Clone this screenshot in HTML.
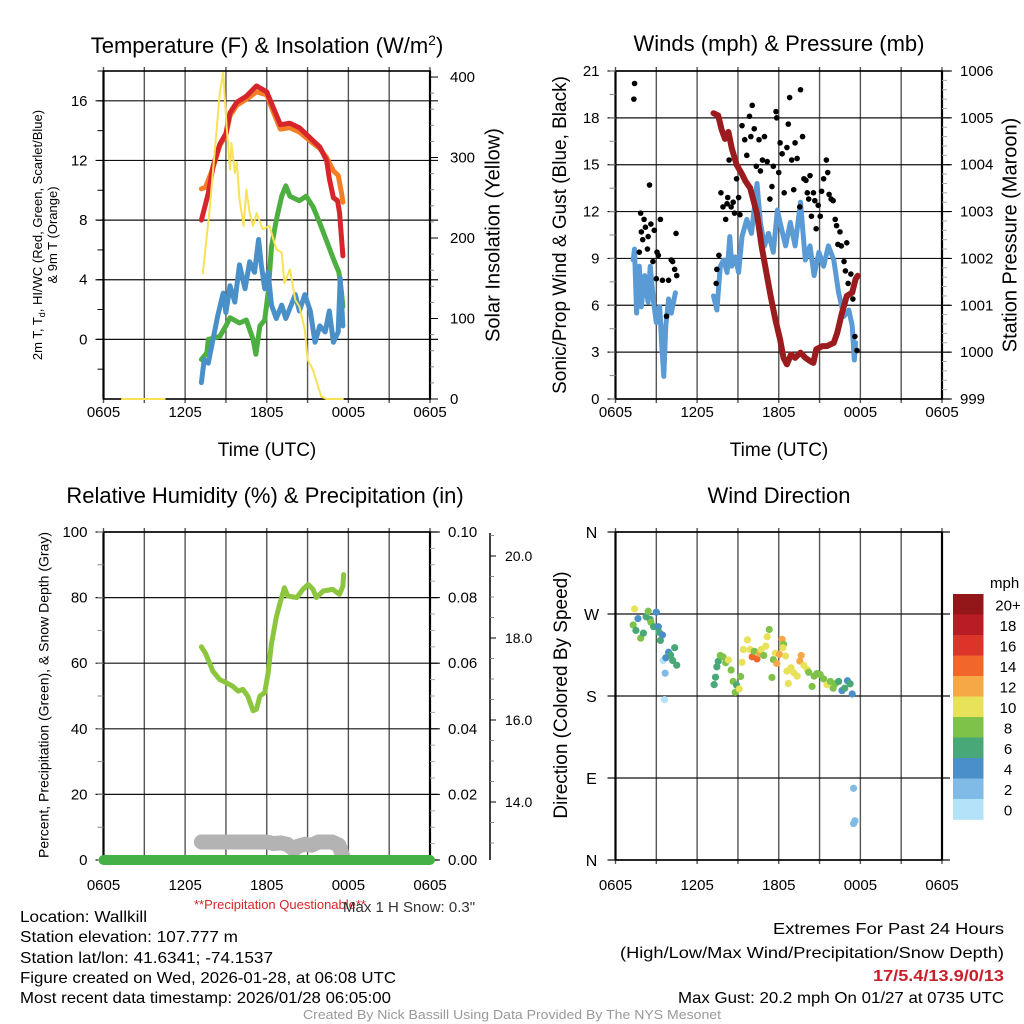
<!DOCTYPE html>
<html><head><meta charset="utf-8"><title>Mesonet Station Meteogram</title>
<style>
html,body{margin:0;padding:0;background:#fff;}
svg{display:block;font-family:"Liberation Sans",sans-serif;}
.nar{font-family:"Liberation Sans Narrow","Liberation Sans",sans-serif;}
</style></head>
<body>
<svg id="fig" width="1024" height="1024" viewBox="0 0 1024 1024" xmlns="http://www.w3.org/2000/svg">
<g id="layer"></g>
<!-- titles -->
<text x="267" y="53" font-size="22" text-anchor="middle">Temperature (F) &amp; Insolation (W/m<tspan dy="-8" font-size="14">2</tspan><tspan dy="8">)</tspan></text>
<text x="779" y="45" font-size="22" text-anchor="middle" dominant-baseline="middle">Winds (mph) &amp; Pressure (mb)</text>
<text x="265" y="497" font-size="22" text-anchor="middle" dominant-baseline="middle">Relative Humidity (%) &amp; Precipitation (in)</text>
<text x="779" y="497" font-size="22" text-anchor="middle" dominant-baseline="middle">Wind Direction</text>
<!-- axis titles -->
<text x="267" y="451" font-size="19" text-anchor="middle" dominant-baseline="middle">Time (UTC)</text>
<text x="779" y="451" font-size="19" text-anchor="middle" dominant-baseline="middle">Time (UTC)</text>
<g transform="translate(42,235) rotate(-90)">
<text x="0" y="0" font-size="13" text-anchor="middle">2m T, T<tspan dy="3" font-size="9">d</tspan><tspan dy="-3">, HI/WC (Red, Green, Scarlet/Blue)</tspan></text>
<text x="0" y="15" font-size="13" text-anchor="middle">&amp; 9m T (Orange)</text>
</g>
<text transform="translate(494,235) rotate(-90)" font-size="20" text-anchor="middle" dominant-baseline="middle">Solar Insolation (Yellow)</text>
<text transform="translate(561,235) rotate(-90)" font-size="19" text-anchor="middle" dominant-baseline="middle">Sonic/Prop Wind &amp; Gust (Blue, Black)</text>
<text transform="translate(1011,235) rotate(-90)" font-size="20" text-anchor="middle" dominant-baseline="middle">Station Pressure (Maroon)</text>
<text transform="translate(45,695) rotate(-90)" font-size="14" text-anchor="middle" dominant-baseline="middle">Percent, Precipitation (Green), &amp; Snow Depth (Gray)</text>
<text transform="translate(562,695) rotate(-90)" font-size="19" text-anchor="middle" dominant-baseline="middle">Direction (Colored By Speed)</text>
<!-- footer -->
<text x="280" y="909" font-size="13" fill="#d62728" text-anchor="middle">**Precipitation Questionable**</text>
<text x="343" y="912" font-size="15" fill="#333">Max 1 H Snow: 0.3"</text>
<g font-size="16" class="nar">
<text x="20" y="922" textLength="127" lengthAdjust="spacingAndGlyphs">Location: Wallkill</text>
<text x="20" y="942" textLength="218" lengthAdjust="spacingAndGlyphs">Station elevation: 107.777 m</text>
<text x="20" y="963" textLength="253" lengthAdjust="spacingAndGlyphs">Station lat/lon: 41.6341; -74.1537</text>
<text x="20" y="983" textLength="376" lengthAdjust="spacingAndGlyphs">Figure created on Wed, 2026-01-28, at 06:08 UTC</text>
<text x="20" y="1003" textLength="371" lengthAdjust="spacingAndGlyphs">Most recent data timestamp: 2026/01/28 06:05:00</text>
</g>
<g font-size="16" class="nar">
<text x="773" y="934" textLength="231" lengthAdjust="spacingAndGlyphs">Extremes For Past 24 Hours</text>
<text x="620" y="958" textLength="384" lengthAdjust="spacingAndGlyphs">(High/Low/Max Wind/Precipitation/Snow Depth)</text>
<text x="873" y="981" textLength="131" lengthAdjust="spacingAndGlyphs" fill="#c8202a" font-weight="bold">17/5.4/13.9/0/13</text>
<text x="678" y="1003" textLength="326" lengthAdjust="spacingAndGlyphs">Max Gust: 20.2 mph On 01/27 at 0735 UTC</text>
</g>
<text x="303" y="1019" font-size="13" class="nar" fill="#999" textLength="418" lengthAdjust="spacingAndGlyphs">Created By Nick Bassill Using Data Provided By The NYS Mesonet</text>
</svg>
<script>
// ---------- data (hours after 0605 UTC) ----------
const timeLabels = ["0605","1205","1805","0005","0605"];
const tempH = [7.2,7.7,8.05,8.55,9.0,9.3,9.8,10.5,11.25,12,12.5,13,13.7,14.4,15.2,15.9,16.4,16.6,16.9,17.2,17.35,17.6];
const tempV = [8,9.8,11.6,13.1,13.8,15.2,15.9,16.3,17.0,16.6,15.5,14.4,14.5,14.2,13.5,12.9,12.0,10.8,9.5,9.3,8.5,5.6];
const t9H = [7.2,7.5,8.05,8.55,9.0,9.3,9.8,10.5,11.25,12,12.5,13,13.7,14.4,15.2,15.9,16.4,16.9,17.25,17.5,17.6];
const t9V = [10.1,10.2,11.5,13.0,13.7,15.0,15.7,16.1,16.6,16.4,15.2,14.1,14.2,13.9,13.3,12.8,12.2,11.3,11.0,9.8,9.2];
const dewH = [7.2,7.6,7.7,8.55,9.0,9.3,10.0,10.5,11.0,11.2,11.5,11.85,12.1,12.35,12.7,13.1,13.4,13.7,14.4,14.9,15.4,15.9,16.4,16.9,17.3,17.5,17.6];
const dewV = [-1.35,-0.9,0,0.2,0.9,1.45,1.1,1.3,0,-1,0.9,1.3,3.1,6.2,8,9.6,10.3,9.6,9.3,9.6,8.9,7.8,6.6,5.4,4.5,3.1,2.2];
const hiH = [7.2,7.4,7.7,8.05,8.4,8.8,9.0,9.3,9.65,10.0,10.4,10.75,11.1,11.4,11.6,11.85,12.1,12.35,12.7,13.1,13.4,14.1,14.4,14.8,15.2,15.55,15.9,16.3,16.6,16.9,17.25,17.4,17.6];
const hiV = [-2.9,-1.35,-1.6,0,1.6,3.1,1.8,3.6,2.5,5,3.4,5.2,4.5,6.7,5,3.4,4.5,2.3,1.4,2.3,1.4,3,1.9,3,1.9,-0.2,0.9,0.5,1.9,-0.2,0.5,4.1,0.9];
const solNightH = [1.35,4.5];
const solNightV = [0,0];
const solH = [7.3,7.8,8.55,8.8,9.05,9.3,9.4,9.65,9.8,10.0,10.3,10.5,10.75,11.0,11.25,11.7,12.2,12.7,13.1,13.3,13.7,14.1,14.4,14.8,15.0,15.4,16.0,16.4,17.6];
const solV = [156,235,380,405,339,285,318,281,294,248,215,260,231,215,231,211,215,186,182,144,161,123,115,86,49,36,3,0,0];
const windH = [1.3,1.4,1.55,1.75,1.9,2.15,2.4,2.55,2.8,3.0,3.25,3.4,3.55,3.7,3.9,4.1,4.4];
const windV = [8.9,9.6,5.5,8.5,5.9,7.9,6.2,8.5,6.2,4.9,5.9,3.4,1.45,4.7,6.4,5.5,6.8];
const wind2H = [7.2,7.45,7.7,7.95,8.2,8.4,8.55,8.8,9.05,9.3,9.65,10.0,10.4,10.65,10.95,11.25,11.6,11.9,12.1,12.5,12.85,13.2,13.6,13.95,14.3,14.6,14.95,15.3,15.65,16.05,16.4,16.8,17.15,17.4,17.55,17.65];
const wind2V = [6.6,5.7,8.5,8.9,8.1,10.4,8.5,9.1,8.1,10.4,11.5,10.6,13.8,11.3,9.8,10.6,9.4,12.1,11.3,9.8,11.3,9.8,12.6,8.9,9.8,7.9,9.4,8.5,9.8,8.9,6.8,5.3,5.7,4.7,2.5,3.6];
const gustH = [1.35,1.4,1.75,1.85,1.9,2.0,2.1,2.2,2.35,2.4,2.5,2.6,2.75,2.85,3.0,3.05,3.15,3.3,3.45,3.75,3.9,4.1,4.2,4.35,4.45,4.5,
7.4,7.45,7.6,7.75,7.9,8.1,8.2,8.25,8.35,8.5,8.65,8.75,8.9,9.05,9.15,9.3,9.5,9.65,9.85,9.95,10.05,10.2,10.35,10.55,10.65,10.8,10.95,11.15,11.35,11.5,11.6,11.8,11.85,12.0,12.1,12.25,12.4,12.6,12.7,12.8,12.95,13.1,13.2,13.35,13.55,13.6,13.75,13.85,14.0,14.1,14.2,14.3,14.4,14.55,14.65,14.75,14.9,15.05,15.15,15.3,15.5,15.6,15.7,15.85,16.0,16.15,16.25,16.35,16.5,16.6,16.8,16.9,17.0,17.1,17.3,17.45,17.6,17.75];
const gustV = [19.2,20.2,9.4,11.9,10.7,10.2,11.5,11.0,9.6,10.4,13.7,11.2,8.8,10.8,7.7,9.4,9.2,11.5,7.6,5.3,7.6,8.9,8.8,8.3,10.6,7.9,
7.4,8.3,9.2,13.2,12.3,11.5,12.5,12.9,15.3,12.3,12.6,11.9,14.1,12.9,11.8,17.5,16.6,15.6,18.1,16.8,18.8,17.3,14.9,16.6,14.6,15.3,16.8,15.2,12.8,13.6,14.9,18.4,18.0,14.5,16.4,15.7,13.2,16.1,17.6,19.3,15.3,13.4,16.4,15.4,12.3,19.8,16.8,14.1,14.0,13.2,12.8,14.3,11.7,13.2,12.7,10.9,12.4,11.7,13.3,14.1,15.3,14.5,13.1,12.8,12.7,11.5,11.1,9.9,10.7,9.8,8.8,8.2,10.0,7.4,8.0,6.4,4.0,3.1];
const presH = [7.2,7.55,7.8,8.05,8.3,8.55,8.9,9.3,9.55,9.9,10.4,10.75,11.15,11.4,11.75,12.1,12.35,12.6,12.9,13.2,13.6,13.95,14.3,14.55,14.75,15.2,15.55,16.05,16.3,16.65,17.0,17.4,17.65,17.8];
const presV = [1005.1,1005.05,1004.75,1004.55,1004.7,1004.35,1004.0,1003.8,1003.65,1003.5,1002.95,1002.25,1001.6,1001.2,1000.7,1000.27,999.88,999.74,999.95,999.88,999.99,999.88,999.81,999.77,1000.06,1000.13,1000.13,1000.2,1000.41,1000.84,1001.2,1001.27,1001.56,1001.63];
const rhH = [7.2,7.5,7.8,8.05,8.55,9.05,9.5,9.9,10.25,10.6,11.0,11.25,11.5,11.85,12.1,12.35,12.7,12.95,13.3,13.55,14.2,14.65,15.05,15.4,15.65,16.15,16.85,17.35,17.6,17.65];
const rhV = [65,63,60,57.5,55,54,53,51.5,52,50,45.5,46,50,51,57,66,74,78,83,80.5,80,82.5,84,82.5,80,82,82.5,81,83.5,87];
const snowH = [7.2,8.0,9.0,10.0,11.0,12.0,12.5,13.0,13.5,14.0,14.3,14.8,15.3,15.8,16.3,16.8,17.3,17.6];
const snowV = [5.5,5.5,5.5,5.5,5.5,5.5,5,5.2,4.8,3.2,4.2,4.8,4.5,5.5,5.5,5.5,4.5,1.0];
const precipH = [0,24];
const precipV = [0,0];
const dirH = [1.4,1.65,1.3,1.5,1.85,2.05,2.25,2.4,2.55,2.6,2.8,3.0,3.15,3.2,3.3,3.45,3.5,3.7,3.9,4.05,4.2,4.35,4.5,3.65,3.6,
7.25,7.35,7.45,7.55,7.7,7.9,8.1,8.3,8.5,8.65,8.8,8.9,9.1,9.2,9.3,9.4,9.7,9.9,10.05,10.2,10.4,10.6,10.7,10.9,11.05,11.15,11.3,11.5,11.6,11.75,11.85,12.05,12.25,12.35,12.3,12.5,12.6,12.7,12.9,13.1,13.35,13.55,13.65,13.85,14.1,14.2,14.45,14.6,14.8,15.05,15.3,15.55,15.8,16.0,16.15,16.4,16.65,16.85,17.05,17.25,17.4,17.5,17.6,17.5];
const dirV = [275.5,265,258,252,243.5,249,267,273,264,261,256,272,256,250,241,247,219,222,228,225,219,233,213.8,205,176,
192.5,200.6,212,218,224.5,223,216.5,219.5,208.5,196,184,192,187.8,201.4,217,231,241.6,231,223,229,220.7,226.6,231,224.5,234.7,245,253,200.4,220,227,215.8,225.7,242.2,236.7,233,223.9,207.3,193.7,211,205.5,201.8,218.3,224.5,213.5,209,206,190.5,201.8,204.6,203.5,198.7,192.5,196,188.6,193.4,196,186,188.6,196.7,193.4,182.2,78.7,43,40];
const dirSpd = [10,4,8,6,8,6,6,8,6,8,6,4,4,6,6,4,0,4,4,6,6,6,6,2,0,
6,6,6,6,8,8,8,10,8,8,8,6,10,8,10,10,10,10,14,8,15,12,10,8,10,10,8,8,8,10,12,12,12,8,10,10,10,10,10,10,10,12,12,10,10,8,8,8,8,8,8,10,8,8,8,6,4,6,4,6,4,2,2,2];
const speedLevels = ["0","2","4","6","8","10","12","14","16","18","20+"];
const speedColors = ["#b4e2f8","#7fbbe6","#4a8fc8","#48a878","#7ec24a","#e8e15a","#f6a847","#f0662b","#dc3428","#ba1c26","#931719"];
const tempTicks = [0,4,8,12,16];
const solTicks = [0,100,200,300,400];
const windTicks = [0,3,6,9,12,15,18,21];
const presTicks = [999,1000,1001,1002,1003,1004,1005,1006];
const rhTicks = [0,20,40,60,80,100];
const precipTicks = ["0.00","0.02","0.04","0.06","0.08","0.10"];
const snowTicks = ["14.0","16.0","18.0","20.0"];
const dirTicks = ["N","E","S","W","N"];

const NS = "http://www.w3.org/2000/svg";
const layer = document.getElementById('layer');
function el(tag, attrs, parent){
  const e = document.createElementNS(NS, tag);
  for (const k in attrs) e.setAttribute(k, attrs[k]);
  (parent||layer).appendChild(e);
  return e;
}
function scale(d0,d1,r0,r1){ return v => r0 + (v-d0)/(d1-d0)*(r1-r0); }

const panels = {
  tl:{x0:103.5,x1:430,y0:71,y1:399,lab:18},
  tr:{x0:615.5,x1:942,y0:71,y1:399,lab:18},
  bl:{x0:103.5,x1:430,y0:532,y1:860,lab:30},
  br:{x0:615.5,x1:942,y0:532,y1:860,lab:30}
};
function xs(p){ return scale(0,24,p.x0,p.x1); }

function frame(p, key, hTicksY){
  const g = el('g', {});
  
  
  const X = xs(p);
  for (let i=0;i<=8;i++){
    const x = X(i*3);
    const ln = el('line',{x1:x,x2:x,y1:p.y0-4,y2:p.y1+4,stroke:'#555','stroke-width':1.4},g);
    
    
  }
  hTicksY.forEach(y=>{
    const ln = el('line',{x1:p.x0-8,x2:p.x1+8,y1:y,y2:y,stroke:'#111','stroke-width':1.2},g);
    
    
  });
  el('rect',{x:p.x0,y:p.y0,width:p.x1-p.x0,height:p.y1-p.y0,fill:'none',stroke:'#000','stroke-width':1.6},g);
  el('line',{x1:p.x0,x2:p.x0,y1:p.y0,y2:p.y1,stroke:'#000','stroke-width':2.2},g);
  el('line',{x1:p.x1,x2:p.x1,y1:p.y0,y2:p.y1,stroke:'#000','stroke-width':2.2},g);
  timeLabels.forEach((t,i)=>{
    const tx = el('text',{x:X(i*6),y:p.y1+p.lab,'font-size':15,'text-anchor':'middle'},g);
    tx.textContent = t;
    
    
  });
}
function leftLabels(p,key,vals,Y,fmt,size){
  vals.forEach(v=>{
    const t = el('text',{x:p.x0-16,y:Y(v)+5,'font-size':size||15,'text-anchor':'end'});
    t.textContent = fmt?fmt(v):v;
    
    
  });
}
function rightLabels(p,key,vals,Y,x,size){
  vals.forEach(v=>{
    const t = el('text',{x:x,y:Y(+v)+5,'font-size':size||15,'text-anchor':'start'});
    t.textContent = v;
    
    
  });
}
function line(X,Y,hs,vs,color,w,name){
  const d = hs.map((h,i)=>(i?'L':'M')+X(h).toFixed(1)+','+Y(vs[i]).toFixed(1)).join('');
  const p = el('path',{d:d,fill:'none',stroke:color,'stroke-width':w,'stroke-linejoin':'round','stroke-linecap':'round'});
  
  
}

// ---------- top-left ----------
(function(){
  const p = panels.tl, X = xs(p);
  const Y = scale(-4,18,p.y1,p.y0);
  const Y2 = scale(0,407.5,p.y1,p.y0);
  frame(p,'tl',tempTicks.map(Y));
  for (let v=-2; v<=18; v+=2){ el('line',{x1:p.x0-6,x2:p.x0,y1:Y(v),y2:Y(v),stroke:'#000','stroke-width':1}); }
  for (let v=0; v<=400; v+=20){ const y=Y2(v); el('line',{x1:p.x1,x2:p.x1+(v%100?4:8),y1:y,y2:y,stroke:v%100?'#888':'#000','stroke-width':1}); }
  leftLabels(p,'tl',tempTicks,Y);
  rightLabels(p,'tl',solTicks,Y2,450,15);
  line(X,Y,t9H,t9V,'#f47e25',5,'series-9m-temp');
  line(X,Y,tempH,tempV,'#d7262b',5,'series-2m-temp');
  line(X,Y,dewH,dewV,'#4caf3f',5,'series-dewpoint');
  line(X,Y,hiH,hiV,'#4a90c8',5,'series-heat-index-wind-chill');
  line(X,Y2,solNightH,solNightV,'#fae155',2,'series-solar-insolation-night');
  line(X,Y2,solH,solV,'#fae155',2,'series-solar-insolation');
})();

// ---------- top-right ----------
(function(){
  const p = panels.tr, X = xs(p);
  const Y = scale(0,21,p.y1,p.y0);
  const Y2 = scale(999,1006,p.y1,p.y0);
  frame(p,'tr',windTicks.map(Y));
  for (let v=0; v<=21; v+=1.5){ el('line',{x1:p.x0-6,x2:p.x0,y1:Y(v),y2:Y(v),stroke:'#888','stroke-width':1}); }
  for (let v=999; v<=1006.01; v+=0.2){ const y=Y2(v); el('line',{x1:p.x1,x2:p.x1+5,y1:y,y2:y,stroke:'#aaa','stroke-width':1}); }
  presTicks.forEach(v=>{ el('line',{x1:p.x1,x2:p.x1+10,y1:Y2(v),y2:Y2(v),stroke:'#000','stroke-width':1}); });
  leftLabels(p,'tr',windTicks,Y);
  rightLabels(p,'tr',presTicks,Y2,960,15);
  line(X,Y,windH,windV,'#5b9bd5',5,'series-wind-speed-morning');
  line(X,Y,wind2H,wind2V,'#5b9bd5',5,'series-wind-speed');
  gustH.forEach((h,i)=>{
    const c = el('circle',{cx:X(h),cy:Y(gustV[i]),r:2.8,fill:'#000'});
    
    
  });
  line(X,Y2,presH,presV,'#9b1b1e',6,'series-station-pressure');
})();

// ---------- bottom-left ----------
(function(){
  const p = panels.bl, X = xs(p);
  const Y = scale(0,100,p.y1,p.y0);
  const Y2 = scale(0,0.1,p.y1,p.y0);
  frame(p,'bl',rhTicks.map(Y));
  for (let v=0; v<=100; v+=10){ el('line',{x1:p.x0-6,x2:p.x0,y1:Y(v),y2:Y(v),stroke:'#888','stroke-width':1}); }
  for (let v=0; v<=100; v+=5){ el('line',{x1:p.x1,x2:p.x1+(v%20?5:10),y1:Y(v),y2:Y(v),stroke:v%20?'#aaa':'#000','stroke-width':1}); }
  leftLabels(p,'bl',rhTicks,Y);
  rightLabels(p,'bl',precipTicks,Y2,448,15);
  const Y3 = scale(14,20,802,556);
  const ax = el('line',{x1:490,x2:490,y1:533,y2:860,stroke:'#000','stroke-width':1.5});
  
  
  for (let v=12.5; v<=20.6; v+=0.5){ const y=Y3(v); if(y>=533&&y<=860) el('line',{x1:490,x2:490+(v%2?4:6),y1:y,y2:y,stroke:v%2?'#888':'#000','stroke-width':1}); }
  rightLabels(p,'bl-snow',snowTicks,Y3,505,14);
  line(X,Y,snowH,snowV,'#b3b3b3',15,'series-snow-depth');
  line(X,Y2,precipH,precipV,'#45b045',10,'series-precipitation');
  line(X,Y,rhH,rhV,'#8cc63f',5,'series-relative-humidity');
})();

// ---------- bottom-right ----------
(function(){
  const p = panels.br, X = xs(p);
  const Y = scale(0,360,p.y1,p.y0);
  const dirVals = [0,90,180,270,360];
  frame(p,'br',dirVals.map(Y));
  dirTicks.forEach((t,i)=>{
    const tx = el('text',{x:p.x0-24,y:Y(dirVals[i])+6,'font-size':16,'text-anchor':'middle'});
    tx.textContent = t;
    
    
  });
  dirH.forEach((h,i)=>{
    const idx = Math.min(10, Math.floor(dirSpd[i]/2));
    const c = el('circle',{cx:X(h),cy:Y(dirV[i]),r:3.6,fill:speedColors[idx]});
    
    
  });
  const cb = el('g',{});
  
  
  const mph = el('text',{x:990,y:588,'font-size':15},cb);
  mph.textContent = 'mph';
  const n = speedLevels.length, top = 594, bh = 20.5;
  speedLevels.forEach((lab,i)=>{
    const k = n-1-i;
    const r = el('rect',{x:953,y:top+i*bh,width:30.5,height:bh+0.3,fill:speedColors[k]},cb);
    
    
    const t = el('text',{x:1008,y:top+i*bh+bh/2+6,'font-size':15,'text-anchor':'middle'},cb);
    t.textContent = speedLevels[k];
    
    
  });
})();
</script>
</body></html>
